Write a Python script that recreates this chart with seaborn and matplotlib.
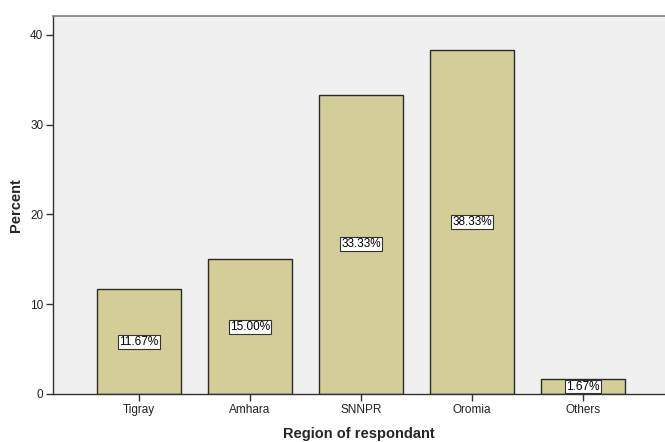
import matplotlib
matplotlib.use("Agg")
import matplotlib.pyplot as plt
import seaborn as sns
import pandas as pd

regions = ["Tigray", "Amhara", "SNNPR", "Oromia", "Others"]
percents = [11.67, 15.00, 33.33, 38.33, 1.67]
yticks = [0, 10, 20, 30, 40]

sns.set_style("white")
plt.rcParams['font.family'] = ['Liberation Sans', 'DejaVu Sans']

df = pd.DataFrame({"Region": regions, "Percent": percents})

fig = plt.figure(figsize=(6.65, 4.42), dpi=100)
ax = fig.add_axes([53/665, 1 - 394/442, (665-53)/665, (394-16)/442])
ax.set_facecolor("#f0f0f0")

sns.barplot(data=df, x="Region", y="Percent", color="#d3ce97", saturation=1,
            width=0.757, edgecolor="#2b2b2b", linewidth=1.0, ax=ax)

for i, v in enumerate(percents):
    ax.text(i, v / 2, f"{v:.2f}%", ha="center", va="center", fontsize=8.5,
            color="black",
            bbox=dict(boxstyle="square,pad=0.08", facecolor="white",
                      edgecolor="#333333", linewidth=0.8))

ax.set_xlim(-0.775, 4.739)
ax.set_ylim(0, 42.1)
ax.set_yticks(yticks)
ax.set_yticklabels([str(t) for t in yticks])
ax.tick_params(axis="both", direction="out", length=5, width=1, color="#333333",
               labelsize=8.5, labelcolor="#222222", pad=2, left=True, bottom=True)

for s in ["left", "bottom"]:
    ax.spines[s].set_visible(True)
    ax.spines[s].set_color("#333333")
    ax.spines[s].set_linewidth(1.0)
ax.spines["top"].set_color("#808080")
ax.spines["top"].set_linewidth(1.2)
ax.spines["right"].set_visible(False)

ax.set_xlabel("Region of respondant", fontsize=10.5, fontweight="bold", labelpad=8)
ax.set_ylabel("Percent", fontsize=10.5, fontweight="bold", labelpad=5)

fig.savefig("out.png", dpi=100)
